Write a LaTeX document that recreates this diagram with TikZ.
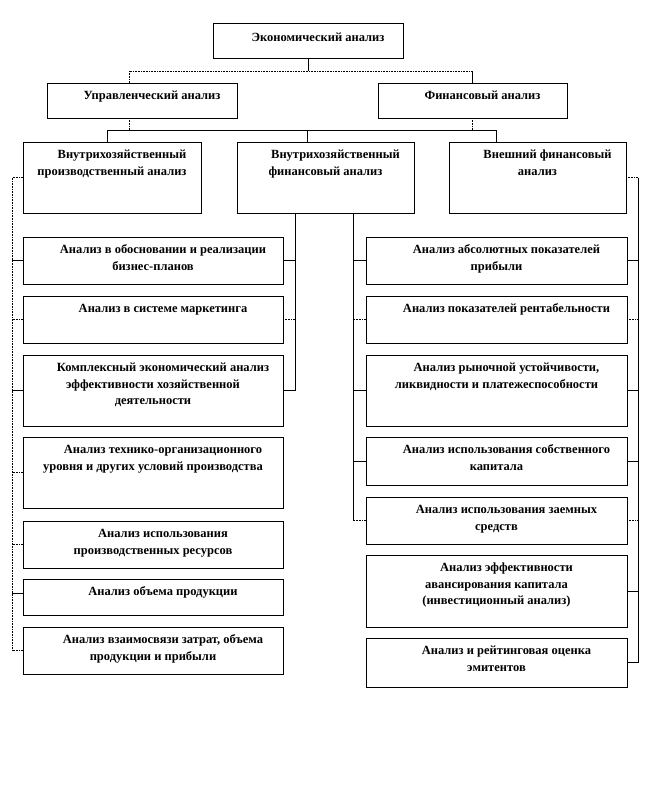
\documentclass[tikz,border=0pt]{standalone}
\usepackage{fontspec}
\setmainfont{Liberation Serif}
\newcommand{\firstind}{\rule{0pt}{9.5pt}\hspace*{20pt}}

\begin{document}
\begin{tikzpicture}[x=1pt, y=-1pt,
    abox/.style={draw, line width=0.8pt, anchor=north west,
                 inner sep=0pt, outer sep=0pt},
    atext/.style={anchor=north, yshift=-7pt, align=center, inner sep=0pt,
                  font=\bfseries\fontsize{12.5}{16.5}\selectfont},
    conn/.style={line width=0.8pt},
    dconn/.style={line width=0.8pt, dash pattern=on 0.8pt off 0.8pt}]

  \useasboundingbox[fill=white] (0,0) rectangle (650,804);

  % top levels
  \node[abox, minimum width=190pt, minimum height=35pt,
        label={[atext, yshift=-2pt]north:{\firstind Экономический анализ}}]
    (econ) at (213,23) {};
  \node[abox, minimum width=190pt, minimum height=35pt,
        label={[atext]north:{\firstind Управленческий анализ}}]
    (upr) at (47,83) {};
  \node[abox, minimum width=189pt, minimum height=35pt,
        label={[atext]north:{\firstind Финансовый анализ}}]
    (fin) at (378,83) {};

  \node[abox, minimum width=178pt, minimum height=71pt,
        label={[atext]north:{\firstind Внутрихозяйственный\\производственный анализ}}]
    (vprod) at (23,142) {};
  \node[abox, minimum width=177pt, minimum height=71pt,
        label={[atext]north:{\firstind Внутрихозяйственный\\финансовый анализ}}]
    (vfin) at (237,142) {};
  \node[abox, minimum width=177pt, minimum height=71pt,
        label={[atext]north:{\firstind Внешний финансовый\\анализ}}]
    (vnesh) at (449,142) {};

  % left column
  \node[abox, minimum width=260pt, minimum height=47pt,
        label={[atext]north:{\firstind Анализ в обосновании и реализации\\бизнес-планов}}]
    (L1) at (23,237) {};
  \node[abox, minimum width=260pt, minimum height=47pt,
        label={[atext]north:{\firstind Анализ в системе маркетинга}}]
    (L2) at (23,296) {};
  \node[abox, minimum width=260pt, minimum height=71pt,
        label={[atext]north:{\firstind Комплексный экономический анализ\\эффективности хозяйственной\\деятельности}}]
    (L3) at (23,355) {};
  \node[abox, minimum width=260pt, minimum height=71pt,
        label={[atext]north:{\firstind Анализ технико-организационного\\уровня и других условий производства}}]
    (L4) at (23,437) {};
  \node[abox, minimum width=260pt, minimum height=47pt,
        label={[atext]north:{\firstind Анализ использования\\производственных ресурсов}}]
    (L5) at (23,521) {};
  \node[abox, minimum width=260pt, minimum height=36pt,
        label={[atext]north:{\firstind Анализ объема продукции}}]
    (L6) at (23,579) {};
  \node[abox, minimum width=260pt, minimum height=47pt,
        label={[atext]north:{\firstind Анализ взаимосвязи затрат, объема\\продукции и прибыли}}]
    (L7) at (23,627) {};

  % right column
  \node[abox, minimum width=261pt, minimum height=47pt,
        label={[atext]north:{\firstind Анализ абсолютных показателей\\прибыли}}]
    (R1) at (366,237) {};
  \node[abox, minimum width=261pt, minimum height=47pt,
        label={[atext]north:{\firstind Анализ показателей рентабельности}}]
    (R2) at (366,296) {};
  \node[abox, minimum width=261pt, minimum height=71pt,
        label={[atext]north:{\firstind Анализ рыночной устойчивости,\\ликвидности и платежеспособности}}]
    (R3) at (366,355) {};
  \node[abox, minimum width=261pt, minimum height=48pt,
        label={[atext]north:{\firstind Анализ использования собственного\\капитала}}]
    (R4) at (366,437) {};
  \node[abox, minimum width=261pt, minimum height=47pt,
        label={[atext]north:{\firstind Анализ использования заемных\\средств}}]
    (R5) at (366,497) {};
  \node[abox, minimum width=261pt, minimum height=72pt,
        label={[atext]north:{\firstind Анализ эффективности\\авансирования капитала\\(инвестиционный анализ)}}]
    (R6) at (366,555) {};
  \node[abox, minimum width=261pt, minimum height=49pt,
        label={[atext]north:{\firstind Анализ и рейтинговая оценка\\эмитентов}}]
    (R7) at (366,638) {};

  % buses and rails
  \coordinate (topbus) at (0,71);
  \coordinate (midbus) at (0,130);
  \coordinate (lrail) at (12,0);
  \coordinate (lin) at (295,0);
  \coordinate (rin) at (353,0);
  \coordinate (rrail) at (638,0);

  \draw[conn] (econ.south) -- (econ.south |- topbus);
  \draw[dconn] ([xshift=-13pt]upr.north) -- ([xshift=-13pt]upr.north |- topbus)
    -- (fin.north |- topbus);
  \draw[conn] (fin.north |- topbus) -- (fin.north);
  \draw[dconn] ([xshift=-13pt]upr.south) -- ([xshift=-13pt]upr.south |- midbus);
  \draw[dconn] (fin.south) -- (fin.south |- midbus);
  \draw[conn] ([xshift=-5pt]vprod.north) |- ([xshift=-41.5pt]vnesh.north |- midbus)
    -- ([xshift=-41.5pt]vnesh.north);
  \draw[conn] ([xshift=-18.5pt]vfin.north) -- ([xshift=-18.5pt]vfin.north |- midbus);

  % left side
  \draw[dconn] (vprod.west) -| (lrail |- L7.west);
  \foreach \b/\s in {L1/conn, L2/dconn, L3/conn, L4/dconn, L5/dconn, L7/dconn}
    \draw[\s] (\b.west) -- (\b.west -| lrail);
  \draw[conn] ([yshift=4pt]L6.west) -- ([yshift=4pt]L6.west -| lrail);
  \draw[conn] (vfin.south -| lin) -- (lin |- L3.east);
  \foreach \b/\s in {L1/conn, L2/dconn, L3/conn}
    \draw[\s] (\b.east) -- (\b.east -| lin);

  % right side
  \draw[conn] (vfin.south -| rin) -- (rin |- R5.west);
  \foreach \b/\s in {R1/conn, R2/dconn, R3/conn, R4/conn, R5/dconn}
    \draw[\s] (\b.west) -- (\b.west -| rin);
  \draw[dconn] (vnesh.east) -- (vnesh.east -| rrail);
  \draw[conn] (vnesh.east -| rrail) -- (rrail |- R7.east);
  \foreach \b/\s in {R1/conn, R2/dconn, R3/conn, R4/conn, R5/dconn, R6/conn, R7/conn}
    \draw[\s] (\b.east) -- (\b.east -| rrail);

\end{tikzpicture}
\end{document}
